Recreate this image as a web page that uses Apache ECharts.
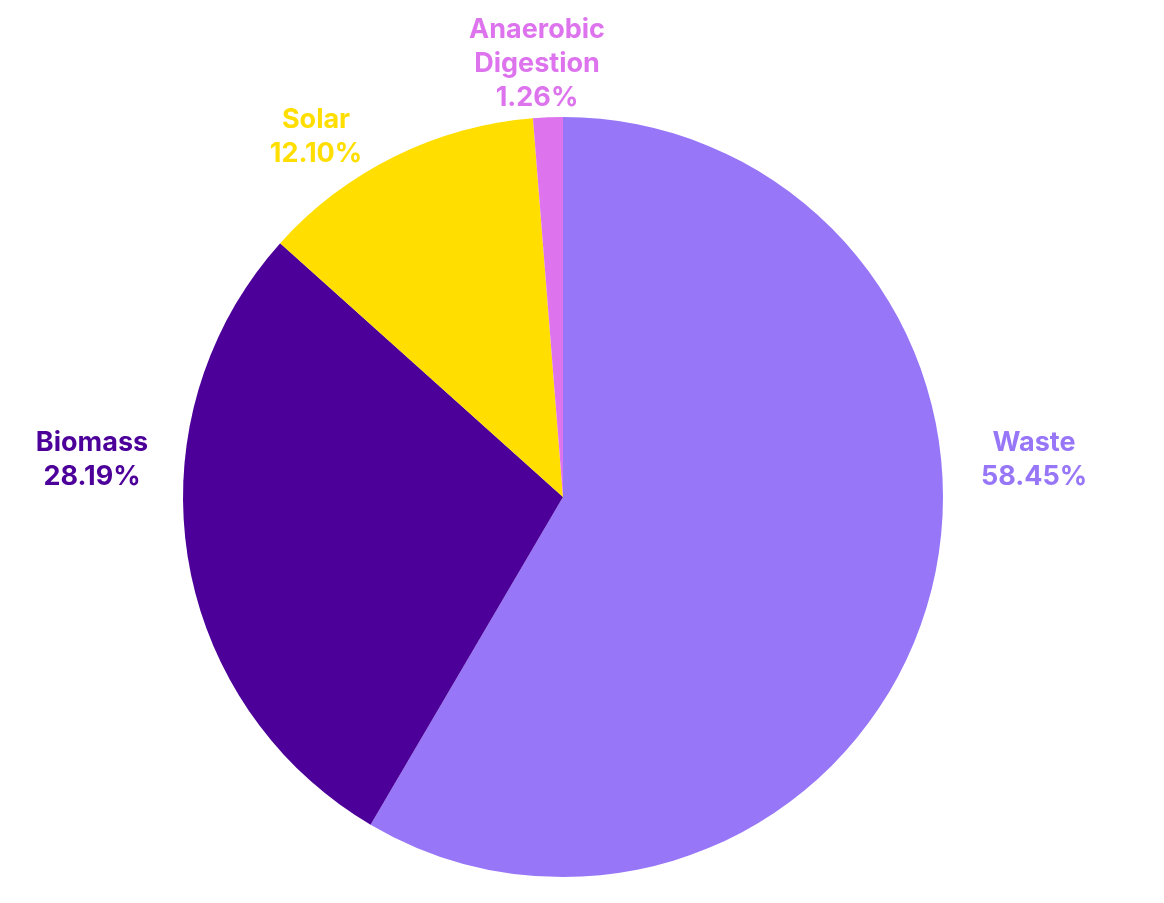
<!DOCTYPE html>
<html>
<head>
<meta charset="utf-8">
<script src="https://cdn.jsdelivr.net/npm/echarts@6/dist/echarts.min.js"></script>
<style>html,body{margin:0;padding:0;background:#fff;}#chart{width:1164px;height:903px;}</style>
</head>
<body>
<div id="chart"></div>
<script>
var categories = ['Waste', 'Biomass', 'Solar', 'Anaerobic\nDigestion'];
var values = [58.45, 28.19, 12.10, 1.26];
var colors = ['#9776F7', '#4C0099', '#FFDE00', '#DD74EE'];

// pie geometry and label placement (layout, relative to pie centre)
var pieCenter = [563, 497];
var pieRadius = 380;
var labelOffsets = [[471, -37], [-471, -37], [-247, -360], [-26, -433]];

var chart = echarts.init(document.getElementById('chart'));
chart.setOption({
  animation: false,
  series: [{
    type: 'pie',
    center: pieCenter,
    radius: pieRadius,
    startAngle: 90,
    clockwise: true,
    data: categories.map(function (c, i) {
      return { name: c, value: values[i], itemStyle: { color: colors[i] },
        label: { color: colors[i] } };
    }),
    label: {
      show: true,
      position: 'outside',
      formatter: function (p) { return p.name + '\n' + p.value.toFixed(2) + '%'; },
      fontFamily: 'Inter',
      fontWeight: 'bold',
      fontSize: 27,
      lineHeight: 34
    },
    labelLine: { show: false },
    labelLayout: function (p) {
      var o = labelOffsets[p.dataIndex];
      return { x: pieCenter[0] + o[0], y: pieCenter[1] + o[1], align: 'center', verticalAlign: 'middle' };
    }
  }]
});
</script>
</body>
</html>
